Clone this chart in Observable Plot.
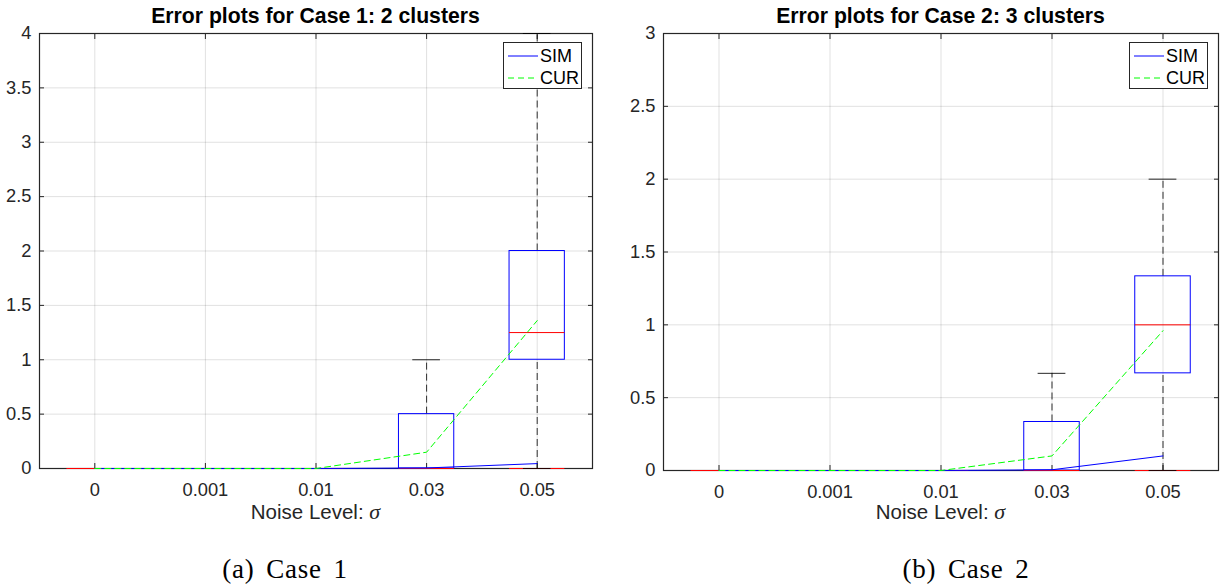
<!DOCTYPE html>
<html><head><meta charset="utf-8">
<script src="https://cdn.jsdelivr.net/npm/d3@7"></script>
<script src="https://cdn.jsdelivr.net/npm/@observablehq/plot@0.6"></script>
<style>
body{margin:0;background:#fff;}
#root{position:relative;width:1225px;height:584px;overflow:hidden;font-family:"Liberation Sans",Arial,sans-serif;}
.panel{position:absolute;top:0;}
.t{position:absolute;transform:translateX(-50%);white-space:nowrap;line-height:1;}
.title{font-weight:bold;font-size:21.2px;color:#000;}
.xl{font-size:20.5px;color:#262626;}
.cap{font-family:"Liberation Serif","Times New Roman",serif;font-size:27px;color:#000;word-spacing:4px;letter-spacing:0.8px;}
.legend{position:absolute;border:1px solid #262626;background:#fff;box-sizing:border-box;width:79px;height:47px;font-size:18px;color:#000;}
.legend svg{position:absolute;left:0;top:0;}
.legend span{position:absolute;line-height:1;}
</style></head>
<body><div id="root"></div>
<script>
const categories = ["0", "0.001", "0.01", "0.03", "0.05"];

// Case 1
const c1Title = "Error plots for Case 1: 2 clusters";
const c1YTicks = [0, 0.5, 1, 1.5, 2, 2.5, 3, 3.5, 4];
const c1Q1 = [0, 0, 0, 0, 1];
const c1Median = [0, 0, 0, 0, 1.25];
const c1Q3 = [0, 0, 0, 0.5, 2];
const c1Low = [0, 0, 0, 0, 0];
const c1High = [0, 0, 0, 1, 4];
const c1BaseMedian = [0, 0, 0, 0, 0];
const c1SIM = [0, 0, 0, 0.005, 0.045];
const c1CUR = [0, 0, 0, 0.15, 1.36];

// Case 2
const c2Title = "Error plots for Case 2: 3 clusters";
const c2YTicks = [0, 0.5, 1, 1.5, 2, 2.5, 3];
const c2Q1 = [0, 0, 0, 0, 0.667];
const c2Median = [0, 0, 0, 0, 1];
const c2Q3 = [0, 0, 0, 0.333, 1.333];
const c2Low = [0, 0, 0, 0, 0];
const c2High = [0, 0, 0, 0.667, 2];
const c2BaseMedian = [0, 0, 0, 0, 0];
const c2SIM = [0, 0, 0, 0.005, 0.1];
const c2CUR = [0, 0, 0, 0.1, 0.96];

const seriesNames = ["SIM", "CUR"];
const xLabel = "Noise Level: ";
const captions = ["(a) Case 1", "(b) Case 2"];

const root = document.getElementById("root");
const axisColor = "#262626";
const gridStyle = {stroke: "#000", strokeOpacity: 0.12};

function panel(cfg) {
  const idx = categories.map((c, i) => i + 1);
  const rows = categories.map((c, i) => ({
    i: i + 1, q1: cfg.q1[i], med: cfg.med[i], q3: cfg.q3[i], lo: cfg.lo[i], hi: cfg.hi[i],
    base: cfg.base[i], sim: cfg.sim[i], cur: cfg.cur[i]
  }));
  const half = 0.25, capHalf = 0.125;
  const fs = 18.3;
  const svg = Plot.plot({
    width: 612, height: 584,
    marginLeft: cfg.ml, marginRight: cfg.mr, marginTop: 33, marginBottom: cfg.mb,
    x: {domain: [0.5, 5.5]},
    y: {domain: [0, cfg.ymax]},
    style: {fontFamily: "Liberation Sans, Arial, sans-serif", color: axisColor, background: "#fff", overflow: "visible"},
    marks: [
      Plot.gridX(idx, gridStyle),
      Plot.gridY(cfg.yTicks, gridStyle),
      Plot.axisX(idx, {anchor: "bottom", tickSize: -5, tickPadding: 19, tickFormat: d => categories[d - 1], fontSize: fs, label: null, stroke: axisColor}),
      Plot.axisX(idx, {anchor: "top", tickSize: -5, tickFormat: () => "", label: null, stroke: axisColor}),
      Plot.axisY(cfg.yTicks, {anchor: "left", tickSize: -5, tickPadding: 13, tickFormat: d => String(d), fontSize: fs, label: null, stroke: axisColor}),
      Plot.axisY(cfg.yTicks, {anchor: "right", tickSize: -5, tickFormat: () => "", label: null, stroke: axisColor}),
      Plot.frame({stroke: axisColor, strokeWidth: 1.2}),
      // underlying degenerate boxplot medians
      Plot.ruleY(rows, {y: "base", x1: d => d.i - half, x2: d => d.i + half, stroke: "#ff0000"}),
      // whiskers
      Plot.ruleX(rows.filter(d => d.hi > d.q3), {x: "i", y1: "q3", y2: "hi", stroke: "#000", strokeOpacity: 0.8, strokeDasharray: "7,4"}),
      Plot.ruleX(rows.filter(d => d.lo < d.q1), {x: "i", y1: "lo", y2: "q1", stroke: "#000", strokeOpacity: 0.8, strokeDasharray: "7,4"}),
      Plot.ruleY(rows, {y: "hi", x1: d => d.i - capHalf, x2: d => d.i + capHalf, stroke: "#000", strokeOpacity: 0.85}),
      Plot.ruleY(rows, {y: "lo", x1: d => d.i - capHalf, x2: d => d.i + capHalf, stroke: "#000", strokeOpacity: 0.85}),
      // boxes
      Plot.rect(rows, {x1: d => d.i - half, x2: d => d.i + half, y1: "q1", y2: "q3", stroke: "#0000ff", fill: "none"}),
      Plot.ruleY(rows, {y: "med", x1: d => d.i - half, x2: d => d.i + half, stroke: "#ff0000"}),
      // series lines
      Plot.line(rows, {x: "i", y: "sim", stroke: "#0000ff", strokeWidth: 1}),
      Plot.line(rows, {x: "i", y: "cur", stroke: "#00ff00", strokeWidth: 1, strokeDasharray: "6,4"})
    ]
  });
  const wrap = document.createElement("div");
  wrap.className = "panel";
  wrap.style.left = cfg.left + "px";
  wrap.appendChild(svg);
  root.appendChild(wrap);

  const cx = cfg.left + cfg.ml + (612 - cfg.ml - cfg.mr) / 2;
  const t = document.createElement("div");
  t.className = "t title"; t.textContent = cfg.title;
  t.style.left = cx + "px"; t.style.top = "5px";
  root.appendChild(t);

  const xl = document.createElement("div");
  xl.className = "t xl";
  xl.innerHTML = xLabel + '<span style="font-family:\'Liberation Serif\',serif;font-style:italic;font-size:22px">σ</span>';
  xl.style.left = cx + "px"; xl.style.top = "501px";
  root.appendChild(xl);

  const cp = document.createElement("div");
  cp.className = "t cap"; cp.textContent = cfg.caption;
  cp.style.left = cfg.capX + "px"; cp.style.top = "556px";
  root.appendChild(cp);

  // legend
  const lg = document.createElement("div");
  lg.className = "legend";
  lg.style.left = cfg.legX + "px"; lg.style.top = "42px";
  lg.innerHTML = `<svg width="79" height="47">
    <line x1="4" x2="34" y1="13" y2="13" stroke="#0000ff" stroke-width="1"/>
    <line x1="4" x2="34" y1="35" y2="35" stroke="#00ff00" stroke-width="1" stroke-dasharray="6,4"/>
  </svg>
  <span style="left:36px;top:4px">${seriesNames[0]}</span>
  <span style="left:36px;top:26px">${seriesNames[1]}</span>`;
  root.appendChild(lg);
}

panel({left: 0, ml: 39, mr: 20, mb: 116, ymax: 4, yTicks: c1YTicks, title: c1Title,
  q1: c1Q1, med: c1Median, q3: c1Q3, lo: c1Low, hi: c1High, base: c1BaseMedian, sim: c1SIM, cur: c1CUR,
  caption: captions[0], capX: 285, legX: 503});
panel({left: 612, ml: 51, mr: 6, mb: 114, ymax: 3, yTicks: c2YTicks, title: c2Title,
  q1: c2Q1, med: c2Median, q3: c2Q3, lo: c2Low, hi: c2High, base: c2BaseMedian, sim: c2SIM, cur: c2CUR,
  caption: captions[1], capX: 966, legX: 1129});
</script>
</body></html>
